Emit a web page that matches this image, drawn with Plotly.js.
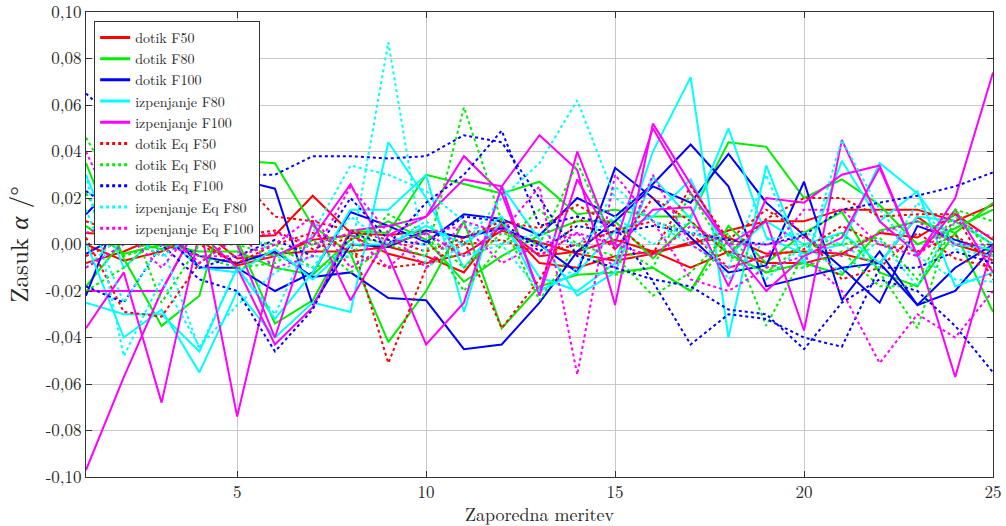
<!DOCTYPE html>
<html>
<head>
<meta charset="utf-8">
<script src="https://cdn.plot.ly/plotly-3.0.1.min.js"></script>
<style>html,body{margin:0;padding:0;background:#fff;}#chart{width:1006px;height:526px;}</style>
</head>
<body>
<div id="chart"></div>
<script>
// x: measurement index
const measurements = [1,2,3,4,5,6,7,8,9,10,11,12,13,14,15,16,17,18,19,20,21,22,23,24,25];

// series names
const seriesNames = ["dotik F50","dotik F80","dotik F100","izpenjanje F80","izpenjanje F100",
  "dotik Eq F50","dotik Eq F80","dotik Eq F100","izpenjanje Eq F80","izpenjanje Eq F100"];

// dotik F50 (3 runs)
const dotikF50_1 = [0.000,-0.007,-0.003,0.005,0.003,0.004,0.021,0.005,0.004,0.006,0.003,0.008,-0.005,-0.003,0.002,-0.003,0.000,0.006,0.010,0.010,0.015,0.015,0.015,0.010,0.017];
const dotikF50_2 = [0.005,0.004,0.005,0.007,-0.006,-0.004,-0.003,-0.003,-0.001,-0.005,-0.012,0.009,-0.008,-0.010,-0.005,-0.003,-0.010,-0.003,-0.008,-0.008,-0.004,-0.008,0.012,0.000,-0.005];
const dotikF50_3 = [-0.008,-0.003,0.004,0.002,-0.009,-0.005,0.002,0.004,-0.004,-0.008,-0.004,0.006,0.001,-0.004,-0.007,-0.004,0.001,0.003,-0.004,-0.003,-0.004,0.005,0.003,0.013,0.002];
// dotik F80
const dotikF80_1 = [0.035,-0.006,-0.035,-0.022,0.036,0.035,0.008,-0.004,-0.042,-0.020,0.010,-0.036,-0.018,-0.013,-0.012,-0.010,-0.020,0.008,-0.008,0.005,0.014,-0.012,-0.018,0.005,0.018];
const dotikF80_2 = [-0.018,0.002,-0.002,0.007,0.002,-0.034,-0.024,0.006,0.005,0.030,0.026,0.022,0.027,0.013,0.015,0.012,0.012,0.044,0.042,0.020,0.028,0.017,0.000,0.007,0.015];
const dotikF80_3 = [0.008,-0.004,0.000,-0.003,-0.003,-0.010,-0.013,0.002,0.010,0.002,-0.016,-0.005,0.004,0.010,0.010,-0.006,0.010,-0.004,-0.012,-0.008,-0.013,0.006,0.010,0.005,-0.029];
// dotik F100
const dotikF100_1 = [-0.022,0.020,0.004,-0.005,-0.008,-0.003,-0.014,-0.012,-0.023,-0.024,-0.045,-0.043,-0.025,-0.003,0.010,0.025,0.018,0.039,0.018,0.004,-0.010,-0.008,-0.026,-0.020,-0.001];
const dotikF100_2 = [0.013,0.030,0.012,-0.010,-0.010,-0.020,-0.012,0.014,0.008,0.001,0.013,0.011,0.004,0.020,0.012,0.026,0.043,0.025,-0.018,-0.014,-0.010,-0.025,0.008,0.002,-0.003];
const dotikF100_3 = [-0.004,0.005,0.015,0.005,0.028,0.024,-0.026,0.000,-0.001,0.006,0.003,0.007,0.000,-0.012,0.033,0.020,0.003,-0.012,-0.009,0.027,-0.024,-0.003,-0.026,-0.010,0.000];
// izpenjanje F80
const izpF80_1 = [0.001,-0.040,-0.028,-0.055,-0.020,-0.040,-0.025,-0.029,0.044,0.020,-0.010,0.010,-0.014,-0.020,-0.008,0.040,0.072,-0.040,0.034,-0.008,0.036,0.010,0.023,-0.018,-0.012];
const izpF80_2 = [-0.025,-0.030,-0.030,-0.046,-0.010,-0.032,-0.012,0.015,0.015,0.030,-0.029,0.025,0.002,-0.022,-0.012,0.029,0.011,0.050,0.003,-0.004,0.000,0.035,0.022,0.000,-0.002];
const izpF80_3 = [0.030,-0.010,0.005,-0.010,-0.012,-0.002,-0.015,0.000,0.000,0.008,0.000,0.012,-0.020,-0.012,0.006,0.012,0.028,-0.005,0.010,0.000,0.005,-0.008,0.012,0.010,0.000];
// izpenjanje F100
const izpF100_1 = [-0.097,-0.057,-0.020,0.010,-0.074,-0.005,0.003,0.026,-0.005,-0.043,-0.025,0.025,0.047,0.032,-0.026,0.052,0.026,0.000,0.010,-0.037,0.045,0.010,-0.004,-0.057,0.000];
const izpF100_2 = [-0.036,-0.012,-0.068,0.005,-0.010,-0.043,-0.027,0.006,0.008,0.012,0.038,0.022,-0.021,0.040,-0.002,0.015,0.016,-0.018,0.020,0.018,0.030,0.034,-0.005,0.020,0.074];
const izpF100_3 = [-0.020,-0.020,-0.020,0.010,0.000,-0.040,0.010,-0.024,0.004,0.012,0.028,0.025,-0.022,0.028,0.000,0.050,0.022,0.000,-0.020,-0.005,0.003,0.033,-0.005,0.015,-0.012];
// dotik Eq F50
const dotikEqF50_1 = [0.003,-0.029,-0.031,-0.008,0.004,0.006,-0.002,0.003,-0.051,-0.010,0.002,-0.036,-0.015,0.012,-0.002,0.020,0.010,-0.004,0.011,0.020,0.020,0.012,0.013,0.013,-0.015];
const dotikEqF50_2 = [0.010,0.004,-0.005,0.008,0.030,0.012,0.010,0.006,0.002,-0.003,0.003,0.010,0.007,0.017,0.008,-0.004,0.025,0.002,0.015,0.005,-0.015,-0.010,0.005,-0.006,-0.010];
const dotikEqF50_3 = [-0.005,0.002,0.002,0.000,-0.008,0.000,0.005,-0.003,-0.010,-0.008,0.000,0.002,-0.004,0.000,0.006,0.010,0.005,-0.010,-0.005,-0.002,0.008,0.000,-0.003,0.004,-0.007];
// dotik Eq F80
const dotikEqF80_1 = [0.046,0.018,-0.025,0.000,0.000,-0.005,0.000,0.004,0.000,-0.005,0.059,0.010,-0.024,0.000,-0.005,-0.022,-0.012,0.005,-0.035,-0.004,0.005,-0.012,-0.036,0.015,0.010];
const dotikEqF80_2 = [0.022,-0.005,0.000,0.003,0.002,0.000,-0.010,-0.005,0.013,0.005,-0.020,0.000,0.015,0.000,-0.013,-0.010,0.022,-0.005,-0.012,0.000,0.000,0.003,-0.015,0.015,-0.005];
const dotikEqF80_3 = [-0.020,-0.010,0.005,-0.005,-0.010,-0.008,0.002,-0.012,0.000,0.005,-0.010,0.005,0.000,0.035,0.000,-0.010,-0.020,0.002,-0.010,-0.010,-0.003,-0.018,-0.018,0.010,0.000];
// dotik Eq F100
const dotikEqF100_1 = [0.065,0.050,0.040,0.030,0.030,0.030,0.038,0.038,0.037,0.038,0.047,0.044,0.020,-0.005,-0.010,-0.015,-0.018,-0.028,-0.030,-0.045,-0.025,-0.015,-0.020,-0.035,-0.055];
const dotikEqF100_2 = [-0.018,-0.025,0.000,-0.015,-0.020,-0.046,-0.028,0.005,0.000,0.018,0.030,0.049,0.008,0.012,0.008,-0.016,-0.043,-0.030,-0.032,-0.040,-0.044,-0.010,-0.010,-0.003,-0.008];
const dotikEqF100_3 = [0.023,0.012,0.005,-0.010,-0.005,0.002,-0.005,0.020,0.002,0.000,0.012,0.010,-0.003,0.008,0.005,0.008,0.005,0.002,0.000,0.004,0.015,0.018,0.021,0.025,0.031];
// izpenjanje Eq F80
const izpEqF80_1 = [0.030,-0.048,-0.015,-0.044,-0.026,-0.012,-0.005,-0.005,0.087,-0.010,0.000,0.020,0.035,0.062,0.020,0.010,0.000,-0.010,0.030,-0.010,0.045,0.015,-0.005,-0.015,-0.016];
const izpEqF80_2 = [0.015,-0.025,0.000,-0.045,-0.010,-0.030,0.005,0.034,0.030,0.023,0.010,0.000,-0.020,-0.010,0.025,0.010,0.005,0.000,-0.015,0.000,-0.012,0.002,-0.018,0.012,0.000];
const izpEqF80_3 = [-0.010,0.005,-0.005,0.005,0.010,-0.005,-0.010,0.012,0.000,0.010,-0.005,0.000,0.005,0.000,0.012,0.000,0.010,-0.015,0.002,0.005,0.000,-0.010,0.018,-0.002,-0.005];
// izpenjanje Eq F100
const izpEqF100_1 = [0.040,0.005,-0.010,0.010,0.005,-0.010,-0.005,0.025,0.005,-0.010,0.010,0.005,0.025,-0.056,0.030,0.010,-0.015,-0.020,-0.010,-0.005,-0.020,-0.051,-0.030,-0.040,-0.020];
const izpEqF100_2 = [0.005,0.010,0.000,-0.005,-0.005,0.000,0.012,-0.010,0.000,0.005,-0.005,0.008,-0.005,0.005,-0.010,0.030,0.000,-0.010,-0.005,0.015,0.015,0.000,-0.005,0.010,0.003];
const izpEqF100_3 = [-0.010,0.000,0.008,-0.008,0.003,0.005,0.000,0.005,-0.010,0.005,0.008,-0.008,0.000,0.005,0.000,-0.005,0.008,0.000,0.000,0.003,-0.005,0.005,0.010,0.000,0.000];

// tick labels
const xTickVals = [5,10,15,20,25];
const xTickText = ["5","10","15","20","25"];
const yTickVals = [-0.10,-0.08,-0.06,-0.04,-0.02,0.00,0.02,0.04,0.06,0.08,0.10];
const yTickText = ["-0,10","-0,08","-0,06","-0,04","-0,02","0,00","0,02","0,04","0,06","0,08","0,10"];

const seriesRuns = [
  [dotikF50_1,dotikF50_2,dotikF50_3],
  [dotikF80_1,dotikF80_2,dotikF80_3],
  [dotikF100_1,dotikF100_2,dotikF100_3],
  [izpF80_1,izpF80_2,izpF80_3],
  [izpF100_1,izpF100_2,izpF100_3],
  [dotikEqF50_1,dotikEqF50_2,dotikEqF50_3],
  [dotikEqF80_1,dotikEqF80_2,dotikEqF80_3],
  [dotikEqF100_1,dotikEqF100_2,dotikEqF100_3],
  [izpEqF80_1,izpEqF80_2,izpEqF80_3],
  [izpEqF100_1,izpEqF100_2,izpEqF100_3]
];
const colors = ["#ff0000","#00ee00","#0000ff","#00ffff","#ff00ff","#ff0000","#00ee00","#0000ff","#00ffff","#ff00ff"];
const dashes = ["solid","solid","solid","solid","solid","dot","dot","dot","dot","dot"];

const traces = [];
seriesRuns.forEach((runs, si) => {
  runs.forEach((vals) => {
    traces.push({
      type: "scatter", mode: "lines",
      x: measurements, y: vals,
      name: seriesNames[si],
      legendgroup: seriesNames[si],
      showlegend: false,
      line: {color: colors[si], width: 2, dash: dashes[si]},
      hoverinfo: "skip"
    });
  });
});
// legend-only entries (thicker sample lines as in the reference legend)
seriesNames.forEach((nm, si) => {
  traces.push({
    type: "scatter", mode: "lines",
    x: [null], y: [null],
    name: nm, legendgroup: nm, showlegend: true,
    line: {color: colors[si], width: 3, dash: dashes[si]},
    hoverinfo: "skip"
  });
});

const serif = "Latin Modern Roman";
const layout = {
  width: 1006, height: 526,
  margin: {l: 86, r: 13, t: 12, b: 49},
  paper_bgcolor: "#fff", plot_bgcolor: "#fff",
  font: {family: serif, color: "#262626", size: 17},
  showlegend: true,
  legend: {
    x: 0.009, y: 0.981, xanchor: "left", yanchor: "top",
    bgcolor: "#fff", bordercolor: "#333", borderwidth: 1,
    font: {family: serif, size: 14, color: "#262626"},
    tracegroupgap: 0, itemwidth: 30
  },
  xaxis: {
    range: [1, 25], tickmode: "array", tickvals: xTickVals, ticktext: xTickText,
    ticks: "inside", ticklen: 6, tickcolor: "#333", showline: true, linecolor: "#333", linewidth: 1,
    mirror: "ticks", showgrid: true, gridcolor: "#c8c8c8", gridwidth: 1, zeroline: false,
    title: {text: "Zaporedna meritev", font: {family: serif, size: 18, color: "#262626"}, standoff: 0}
  },
  yaxis: {
    range: [-0.1, 0.10001], tickmode: "array", tickvals: yTickVals, ticktext: yTickText,
    ticks: "inside", ticklen: 6, tickcolor: "#333", showline: true, linecolor: "#333", linewidth: 1,
    mirror: "ticks", showgrid: true, gridcolor: "#c8c8c8", gridwidth: 1, zeroline: false,
    ticklabeloverflow: "allow",
    title: {text: "Zasuk <i>α</i> /°", font: {family: serif, size: 25, color: "#262626"}, standoff: 10}
  }
};

Plotly.newPlot("chart", traces, layout, {displayModeBar: false, staticPlot: true});
</script>
</body>
</html>
